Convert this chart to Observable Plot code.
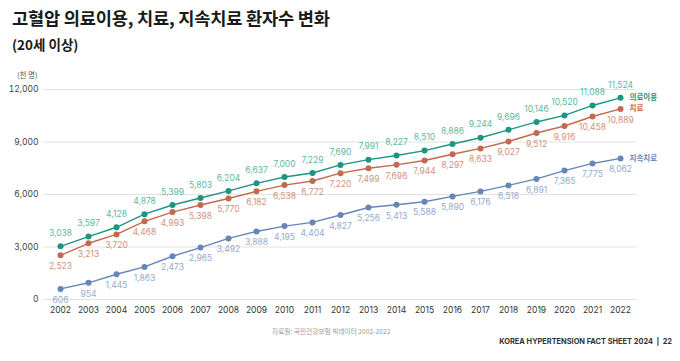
<!DOCTYPE html>
<html><head><meta charset="utf-8">
<script src="https://cdn.jsdelivr.net/npm/d3@7"></script>
<script src="https://cdn.jsdelivr.net/npm/@observablehq/plot@0.6"></script>
<style>
body{margin:0;background:#fff;font-family:Inter,"Noto Sans CJK KR",sans-serif;}
#wrap{position:relative;width:680px;height:361px;overflow:hidden;background:#fff}
.abs{position:absolute;white-space:nowrap}
#title{left:12px;top:5px;font-family:"Noto Sans CJK KR",sans-serif;font-weight:700;font-size:17.6px;color:#1a1a1a;letter-spacing:-0.2px}
#subtitle{left:12px;top:34px;font-family:"Noto Sans CJK KR",sans-serif;font-weight:700;font-size:13.5px;color:#1a1a1a}
#unit{left:17px;top:69px;font-family:"Noto Sans CJK KR",sans-serif;font-size:7.5px;color:#555}
#caption{left:272px;top:326px;font-family:"Noto Sans CJK KR",sans-serif;font-size:6.7px;color:#999}
#footer{right:8px;top:337px;font-family:Inter,sans-serif;font-weight:700;font-size:7.4px;color:#333}
#chart{left:0;top:62px}
</style></head><body>
<div id="wrap">
  <div id="title" class="abs">고혈압 의료이용, 치료, 지속치료 환자수 변화</div>
  <div id="subtitle" class="abs">(20세 이상)</div>
  <div id="unit" class="abs">(천 명)</div>
  <div id="chart" class="abs"></div>
  <div id="caption" class="abs">자료원: 국민건강보험 빅데이터 2002-2022</div>
  <div id="footer" class="abs">KOREA HYPERTENSION FACT SHEET 2024 &nbsp;|&nbsp; 22</div>
</div>
<script>
const years = [2002,2003,2004,2005,2006,2007,2008,2009,2010,2011,2012,2013,2014,2015,2016,2017,2018,2019,2020,2021,2022];
const medicalUse = [3038,3597,4128,4878,5399,5803,6204,6637,7000,7229,7690,7991,8227,8510,8886,9244,9696,10146,10520,11088,11524];
const treatment = [2523,3213,3720,4468,4993,5398,5770,6182,6538,6772,7220,7499,7696,7944,8297,8633,9027,9512,9916,10458,10889];
const continued = [606,954,1445,1863,2473,2965,3492,3888,4195,4404,4827,5256,5413,5588,5890,6176,6518,6891,7365,7775,8062];
const seriesNames = ["의료이용","치료","지속치료"];
const lineColors = ["#1b9680","#c4694c","#6686b8"];
const labelColors = ["#5cb9a3","#d4917b","#93abd0"];
const yTicks = [0,3000,6000,9000,12000];

const seriesValues = [medicalUse, treatment, continued];
const data = [];
seriesNames.forEach((s, i) => years.forEach((yr, j) => data.push({series: s, year: yr, value: seriesValues[i][j]})));
const fmt = d3.format(",");

const labelMark = (i, dy) => Plot.text(data.filter(d => d.series === seriesNames[i]), {
  x: "year", y: "value", text: d => fmt(d.value), dy, fill: labelColors[i], fontSize: 8.5
});

const chart = Plot.plot({
  width: 680, height: 258,
  marginLeft: 43, marginRight: 44, marginTop: 27, marginBottom: 21,
  style: {fontFamily: "Inter, 'Noto Sans CJK KR', sans-serif", fontSize: "8.5px", background: "transparent"},
  x: {type: "point", domain: years, padding: 0.5},
  y: {domain: [0, 12000]},
  color: {domain: seriesNames, range: lineColors},
  marks: [
    Plot.gridY(yTicks, {stroke: "#e2e2e2", strokeOpacity: 1, strokeWidth: 1}),
    Plot.axisY(yTicks, {tickSize: 0, tickPadding: 5, tickFormat: fmt, label: null, fill: "#444", fontSize: 8.5}),
    Plot.axisX(years, {tickSize: 0, tickPadding: 7, tickFormat: d => String(d), label: null, fill: "#333", fontSize: 8.5}),
    Plot.line(data, {x: "year", y: "value", stroke: "series", strokeWidth: 1.4}),
    Plot.dot(data, {x: "year", y: "value", fill: "series", r: 3}),
    labelMark(0, -13),
    labelMark(1, 11),
    labelMark(2, 11),
    Plot.text(data, Plot.selectLast({x: "year", y: "value", z: "series", text: "series", fill: "series",
      dx: 9, textAnchor: "start", fontWeight: 700, fontSize: 7.5, fontFamily: "'Noto Sans CJK KR', sans-serif"}))
  ]
});
document.getElementById("chart").appendChild(chart);
</script>
</body></html>
